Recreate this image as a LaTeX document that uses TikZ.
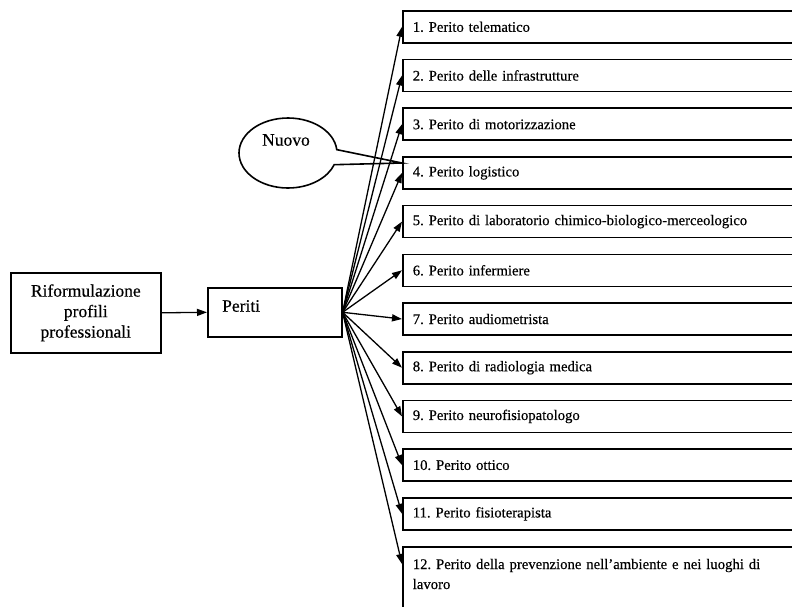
\documentclass[tikz,border=0pt]{standalone}
\usepackage{fontspec}
\setmainfont{Liberation Serif}[FakeBold=0.4]
\usetikzlibrary{arrows.meta,shapes.callouts,calc}
\begin{document}
\frenchspacing
\begin{tikzpicture}[x=1pt,y=-1pt,
  frame/.style={draw, line width=1.6pt},
  bigtxt/.style={font=\fontsize{17.5}{20.5}\selectfont},
  rbox/.style={frame, anchor=north west, minimum height=32pt, text width=392pt,
    inner xsep=10pt, inner ysep=0pt, align=left, font=\fontsize{14.7}{20}\selectfont},
  fan/.style={line width=1.3pt, -{Triangle[length=10pt,width=7pt]}},
]
\useasboundingbox (0,0) rectangle (792,606);
\clip (0,0) rectangle (792,606);

% source boxes
\node[frame, bigtxt, anchor=north west, minimum width=150pt, minimum height=80pt,
  align=center, inner sep=0pt] (rif) at (10,272) {Riformulazione\\profili\\professionali};
\node[frame, anchor=north west, minimum width=134pt, minimum height=49pt] (periti) at (207,287) {};
\node[bigtxt, anchor=west, inner sep=0pt] (peritilbl) at (222,306) {Periti};

% list of profiles
\node[rbox] (b1)  at (402,10)  {1. Perito telematico};
\node[rbox] (b2)  at (402,58.7)  {2. Perito delle infrastrutture};
\node[rbox] (b3)  at (402,107.4) {3. Perito di motorizzazione};
\node[rbox] (b4)  at (402,156.1) {4. Perito logistico};
\node[rbox] (b5)  at (402,204.8) {5. Perito di laboratorio chimico-biologico-merceologico};
\node[rbox] (b6)  at (402,253.5) {6. Perito infermiere};
\node[rbox] (b7)  at (402,302.2) {7. Perito audiometrista};
\node[rbox] (b8)  at (402,350.9) {8. Perito di radiologia medica};
\node[rbox] (b9)  at (402,399.6) {9. Perito neurofisiopatologo};
\node[rbox] (b10) at (402,448.3) {10. Perito ottico};
\node[rbox] (b11) at (402,497)   {11. Perito fisioterapista};
\node[rbox, inner ysep=12pt] (b12) at (402,546)
  {\parbox[t][70pt][t]{392pt}{12. Perito della prevenzione nell'ambiente e nei luoghi di\\lavoro}};

% callout
\coordinate (tip) at (402,163);
\node[ellipse callout, frame, minimum width=98pt, minimum height=70pt,
  callout absolute pointer={(tip)}, callout pointer arc=25] (nuovo) at (288,153) {};
\node[bigtxt, inner sep=0pt] (nuovolbl) at (286,140) {Nuovo};

% connectors
\draw[fan] (rif.east) -- (periti.west);
\foreach \b in {b1,b2,b3,b4,b5,b6,b7,b8,b9,b10,b11}
  \draw[fan] (periti.east) -- (\b.west);
\draw[fan] (periti.east) -- ($(b12.north west)+(0,18)$);
\end{tikzpicture}
\end{document}
